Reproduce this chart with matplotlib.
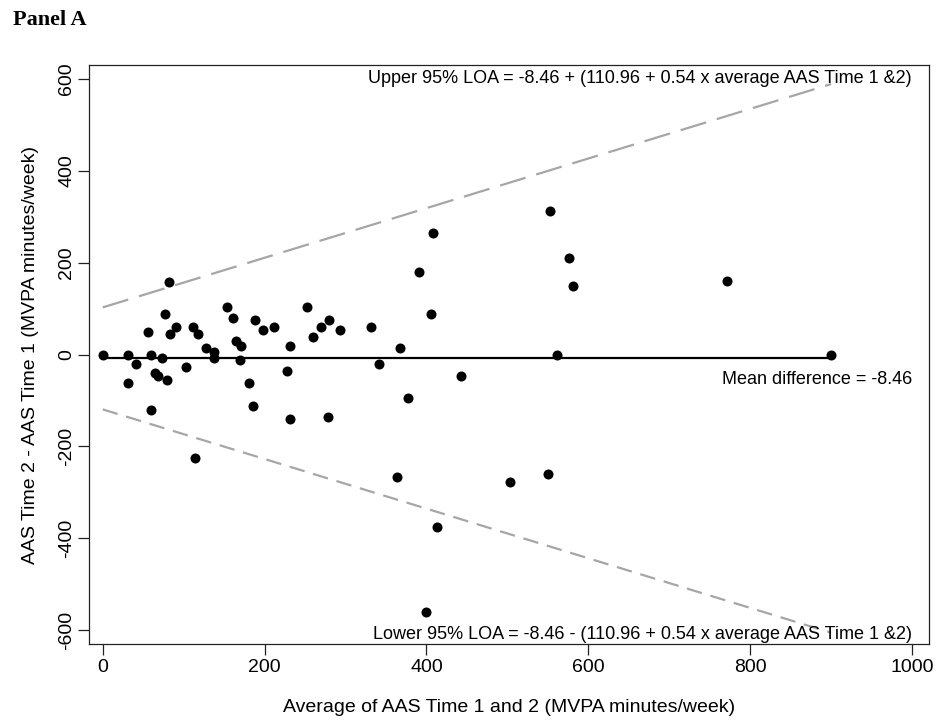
import matplotlib
matplotlib.use("Agg")
import matplotlib.pyplot as plt
import numpy as np

# Data (average, difference)
avg = [0, 31, 41, 31, 56, 60, 73, 65, 68.5, 79, 60, 77, 81.6, 83, 91, 103, 112, 118,
       128, 138, 138, 114, 154, 161, 165, 170.6, 170, 181, 186, 188, 198, 211, 231,
       228, 231, 252, 260, 270, 279, 293, 278.5, 331, 341, 367, 377.5, 363, 390.6,
       405.4, 408, 413, 400, 443, 503, 550.5, 553, 561, 576, 580.5, 771, 900]
diff = [0, 0, -20, -61, 50, 0, -7, -41, -46, -56, -121, 89, 158, 45, 59, -27, 59, 45,
        13.5, 6, -8, -226, 104, 79, 30, 18.5, -13, -61, -111, 75, 53, 59, 18.5,
        -35, -141, 104, 39, 60.5, 75, 53, -135, 59, -21, 13.5, -95, -266, 179,
        88, 264, -375, -560, -46, -277, -261, 313, -1, 209, 149, 160, 0]

mean_diff = -8.46
loa_a = 110.96
loa_b = 0.54
line_x = [0, 900]

x_ticks = [0, 200, 400, 600, 800, 1000]
y_ticks = [-600, -400, -200, 0, 200, 400, 600]

plt.rcParams['font.family'] = ['Liberation Sans', 'DejaVu Sans']
plt.rcParams['axes.unicode_minus'] = False

fig = plt.figure(figsize=(9.36, 7.24), dpi=100)
ax = fig.add_axes([89/936, 80/724, 840/936, 579/724])

lx = np.array(line_x, dtype=float)
ax.plot(lx, [mean_diff, mean_diff], color='black', lw=1.6, zorder=2)
ax.plot(lx, mean_diff + (loa_a + loa_b*lx), color='#a6a6a6', lw=1.6,
        dashes=(12, 5), zorder=1)
ax.plot(lx, mean_diff - (loa_a + loa_b*lx), color='#a6a6a6', lw=1.6,
        dashes=(7, 4), zorder=1)

ax.scatter(avg, diff, s=52, color='black', zorder=3, linewidths=0)

ax.set_xlim(-17, 1021)
ax.set_ylim(-630, 630)
ax.set_xticks(x_ticks)
ax.set_yticks(y_ticks)
ax.tick_params(axis='both', direction='out', length=8, width=0.9,
               labelsize=14, colors='#222222', labelcolor='black')
ax.tick_params(axis='x', pad=3)
ax.tick_params(axis='y', pad=2)
for lab in ax.get_yticklabels():
    lab.set_rotation(90)
    lab.set_va('center')
for sp in ax.spines.values():
    sp.set_linewidth(0.9)
    sp.set_color('#222222')

ax.set_xlabel('Average of AAS Time 1 and 2 (MVPA minutes/week)', fontsize=14, labelpad=16)
ax.set_ylabel('AAS Time 2 - AAS Time 1 (MVPA minutes/week)', fontsize=14, labelpad=14)

ax.text(1000, 600, 'Upper 95% LOA = -8.46 + (110.96 + 0.54 x average AAS Time 1 &2)',
        ha='right', va='center', fontsize=13)
ax.text(1000, -55, 'Mean difference = -8.46', ha='right', va='center', fontsize=13)
ax.text(1000, -610, 'Lower 95% LOA = -8.46 - (110.96 + 0.54 x average AAS Time 1 &2)',
        ha='right', va='center', fontsize=13)

fig.text(13/936, 1 - 20/724, 'Panel A', fontsize=16, fontweight='bold',
         family=['Liberation Serif', 'DejaVu Serif'], ha='left', va='center')

fig.savefig('out.png', dpi=100)
